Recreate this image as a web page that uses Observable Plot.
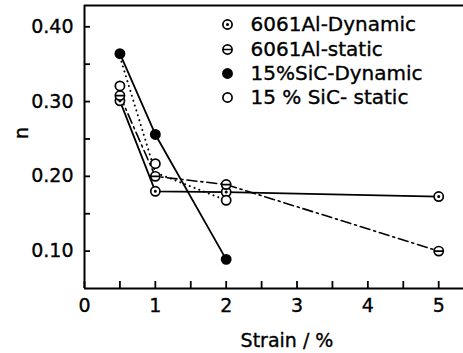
<!DOCTYPE html>
<html><head><meta charset="utf-8">
<script src="https://cdn.jsdelivr.net/npm/d3@7"></script>
<script src="https://cdn.jsdelivr.net/npm/@observablehq/plot@0.6"></script>
<style>body{margin:0;background:#fff}svg{display:block}svg text{stroke:black;stroke-width:0.35px}</style>
</head><body><div id="chart"></div>
<script>
// ---- data ----
const seriesNames = ["6061Al-Dynamic", "6061Al-static", "15%SiC-Dynamic", "15 % SiC- static"];
const alStrain = [0.5, 1, 2, 5];
const alDynamicN = [0.301, 0.180, 0.179, 0.173];
const alStaticN = [0.308, 0.200, 0.189, 0.100];
const sicStrain = [0.5, 1, 2];
const sicDynamicN = [0.364, 0.256, 0.089];
const sicStaticN = [0.321, 0.217, 0.168];
const sicStaticLineN = [0.360, 0.205, 0.168]; // dotted trace as drawn
const xTicks = [0, 0.5, 1, 1.5, 2, 2.5, 3, 3.5, 4, 4.5, 5];
const yTicks = [0.10, 0.15, 0.20, 0.25, 0.30, 0.35, 0.40];
const xDomain = [0, 5.35];
const yDomain = [0.05, 0.4285];

const pts = (xs, ys) => xs.map((x, i) => ({x, y: ys[i]}));
const alDyn = pts(alStrain, alDynamicN);
const alSta = pts(alStrain, alStaticN);
const sicDyn = pts(sicStrain, sicDynamicN);
const sicSta = pts(sicStrain, sicStaticN);
const sicStaLine = pts(sicStrain, sicStaticLineN);

// custom symbols
const circleDot = {draw(ctx, size) {const r = Math.sqrt(size / Math.PI); ctx.moveTo(r, 0); ctx.arc(0, 0, r, 0, 2 * Math.PI); ctx.moveTo(0.7, 0); ctx.arc(0, 0, 0.7, 0, 2 * Math.PI);}};
const circleBar = {draw(ctx, size) {const r = Math.sqrt(size / Math.PI); ctx.moveTo(r, 0); ctx.arc(0, 0, r, 0, 2 * Math.PI); ctx.moveTo(-r, 0); ctx.lineTo(r, 0);}};

const R = 4.6, SW = 1.7;
const symbolOpts = [
  {symbol: circleDot, fill: "white", stroke: "black"},
  {symbol: circleBar, fill: "white", stroke: "black"},
  {symbol: "circle", fill: "black", stroke: "black"},
  {symbol: "circle", fill: "white", stroke: "black"}
];
const legendRowsDy = [19, 44, 68, 92];

const legendMarks = seriesNames.flatMap((name, i) => [
  Plot.dot([name], {frameAnchor: "top-left", dx: 143, dy: legendRowsDy[i], r: R, strokeWidth: SW, ...symbolOpts[i]}),
  Plot.text([name], {frameAnchor: "top-left", dx: 166, dy: legendRowsDy[i], lineAnchor: "middle", textAnchor: "start", fontSize: 20, fill: "black"})
]);

const chart = Plot.plot({
  width: 463,
  height: 353,
  marginLeft: 84,
  marginRight: 0,
  marginTop: 5,
  marginBottom: 65,
  style: {fontFamily: "'DejaVu Sans', sans-serif", fontSize: "19px", color: "black", background: "white"},
  x: {domain: xDomain, label: null},
  y: {domain: yDomain, label: null},
  marks: [
    Plot.ruleY([yDomain[1], yDomain[0]], {strokeWidth: 2}),
    Plot.ruleX([xDomain[0]], {strokeWidth: 2}),
    Plot.axisY(yTicks, {anchor: "left", tickSize: -6, tickPadding: 17, strokeWidth: 1.8,
      tickFormat: d => (Math.round(d * 100) % 10 === 0 ? d.toFixed(2) : ""), label: null}),
    Plot.axisX(xTicks, {anchor: "bottom", tickSize: -7, tickPadding: 17, strokeWidth: 1.8,
      tickFormat: d => (Number.isInteger(d) ? String(d) : ""), label: null}),
    Plot.line(alDyn, {x: "x", y: "y", stroke: "black", strokeWidth: 1.8}),
    Plot.line(alSta, {x: "x", y: "y", stroke: "black", strokeWidth: 1.6, strokeDasharray: "10,4,2,4"}),
    Plot.line(sicDyn, {x: "x", y: "y", stroke: "black", strokeWidth: 1.8}),
    Plot.line(sicStaLine, {x: "x", y: "y", stroke: "black", strokeWidth: 2, strokeDasharray: "0.1,5", strokeLinecap: "round"}),
    Plot.dot(alDyn, {x: "x", y: "y", r: R, strokeWidth: SW, ...symbolOpts[0]}),
    Plot.dot(alSta, {x: "x", y: "y", r: R, strokeWidth: SW, ...symbolOpts[1]}),
    Plot.dot(sicSta, {x: "x", y: "y", r: R, strokeWidth: SW, ...symbolOpts[3]}),
    Plot.dot(sicDyn, {x: "x", y: "y", r: R, strokeWidth: SW, ...symbolOpts[2]}),
    ...legendMarks,
    Plot.text(["Strain / %"], {frameAnchor: "bottom", dx: 13, dy: 52, lineAnchor: "middle", fontSize: 19, fill: "black"}),
    Plot.text(["n"], {frameAnchor: "left", dx: -63, dy: -8, rotate: -90, lineAnchor: "middle", fontSize: 19, fill: "black"})
  ]
});
document.getElementById("chart").append(chart);
</script>
</body></html>
